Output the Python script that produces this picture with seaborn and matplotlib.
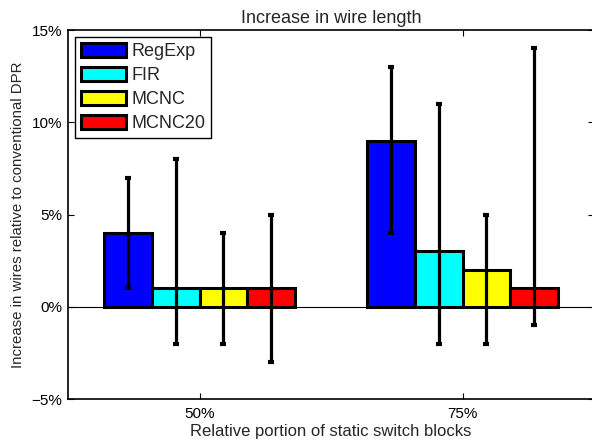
import matplotlib
matplotlib.use('Agg')
import matplotlib.pyplot as plt
from matplotlib.ticker import FuncFormatter
import numpy as np
import pandas as pd
import seaborn as sns

# Data (values in %)
groups = ["50%", "75%"]
benchmarks = ["RegExp", "FIR", "MCNC", "MCNC20"]
values = {
    "RegExp": [4, 9],
    "FIR": [1, 3],
    "MCNC": [1, 2],
    "MCNC20": [1, 1],
}
err_low = {
    "RegExp": [1, 4],
    "FIR": [-2, -2],
    "MCNC": [-2, -2],
    "MCNC20": [-3, -1],
}
err_high = {
    "RegExp": [7, 13],
    "FIR": [8, 11],
    "MCNC": [4, 5],
    "MCNC20": [5, 14],
}
colors = ["#0000ff", "#00ffff", "#ffff00", "#ff0000"]

rows = []
for b in benchmarks:
    for g, v in zip(groups, values[b]):
        rows.append({"group": g, "benchmark": b, "value": v})
df = pd.DataFrame(rows)

sns.set_style("ticks")
plt.rcParams['font.family'] = ['Liberation Sans', 'DejaVu Sans']

fig = plt.figure(figsize=(5.92, 4.44), dpi=100)
ax = fig.add_axes([68 / 592, 45 / 444, 526 / 592, 369 / 444])

sns.barplot(data=df, x="group", y="value", hue="benchmark",
            order=groups, hue_order=benchmarks, palette=colors,
            width=0.727, gap=0, saturation=1, errorbar=None,
            edgecolor="black", linewidth=2.2, ax=ax, zorder=2)

# baseline at zero
ax.axhline(0, color="black", linewidth=0.8, zorder=1)

# error bars at the bar centres
for b, cont in zip(benchmarks, ax.containers):
    xs = [p.get_x() + p.get_width() / 2 for p in cont.patches]
    v = np.array(values[b], dtype=float)
    lo = v - np.array(err_low[b])
    hi = np.array(err_high[b]) - v
    ax.errorbar(xs, v, yerr=[lo, hi], fmt="none", ecolor="black",
                elinewidth=2.3, capsize=2, capthick=3, zorder=3)

ax.set_xlim(-0.5, 1.5)
ax.set_ylim(-5, 15)
ax.set_yticks([-5, 0, 5, 10, 15])
ax.yaxis.set_major_formatter(FuncFormatter(lambda v, _: f"{v:g}%".replace("-", "\u2212")))

for s in ax.spines.values():
    s.set_visible(True)
    s.set_linewidth(1.2)
    s.set_color("black")
ax.tick_params(direction="in", length=4, width=0.8, top=True, right=True,
               labelsize=11, colors="black")
ax.tick_params(axis="x", pad=6)
ax.tick_params(axis="y", pad=4)

ax.set_title("Increase in wire length", fontsize=13, pad=5)
ax.set_xlabel("Relative portion of static switch blocks", fontsize=12, labelpad=2)
ax.set_ylabel("Increase in wires relative to conventional DPR", fontsize=10.8, labelpad=5)

leg = ax.legend(loc="upper left", fontsize=13, frameon=True, fancybox=False,
                edgecolor="black", framealpha=1, handlelength=2.5,
                handleheight=0.85, handletextpad=0.3, labelspacing=0.37,
                borderpad=0.3, borderaxespad=0.4, title=None)
leg.get_frame().set_linewidth(1.0)
for h in leg.legend_handles:
    h.set_edgecolor("black")
    h.set_linewidth(2.2)

fig.savefig("out.png", dpi=100)
